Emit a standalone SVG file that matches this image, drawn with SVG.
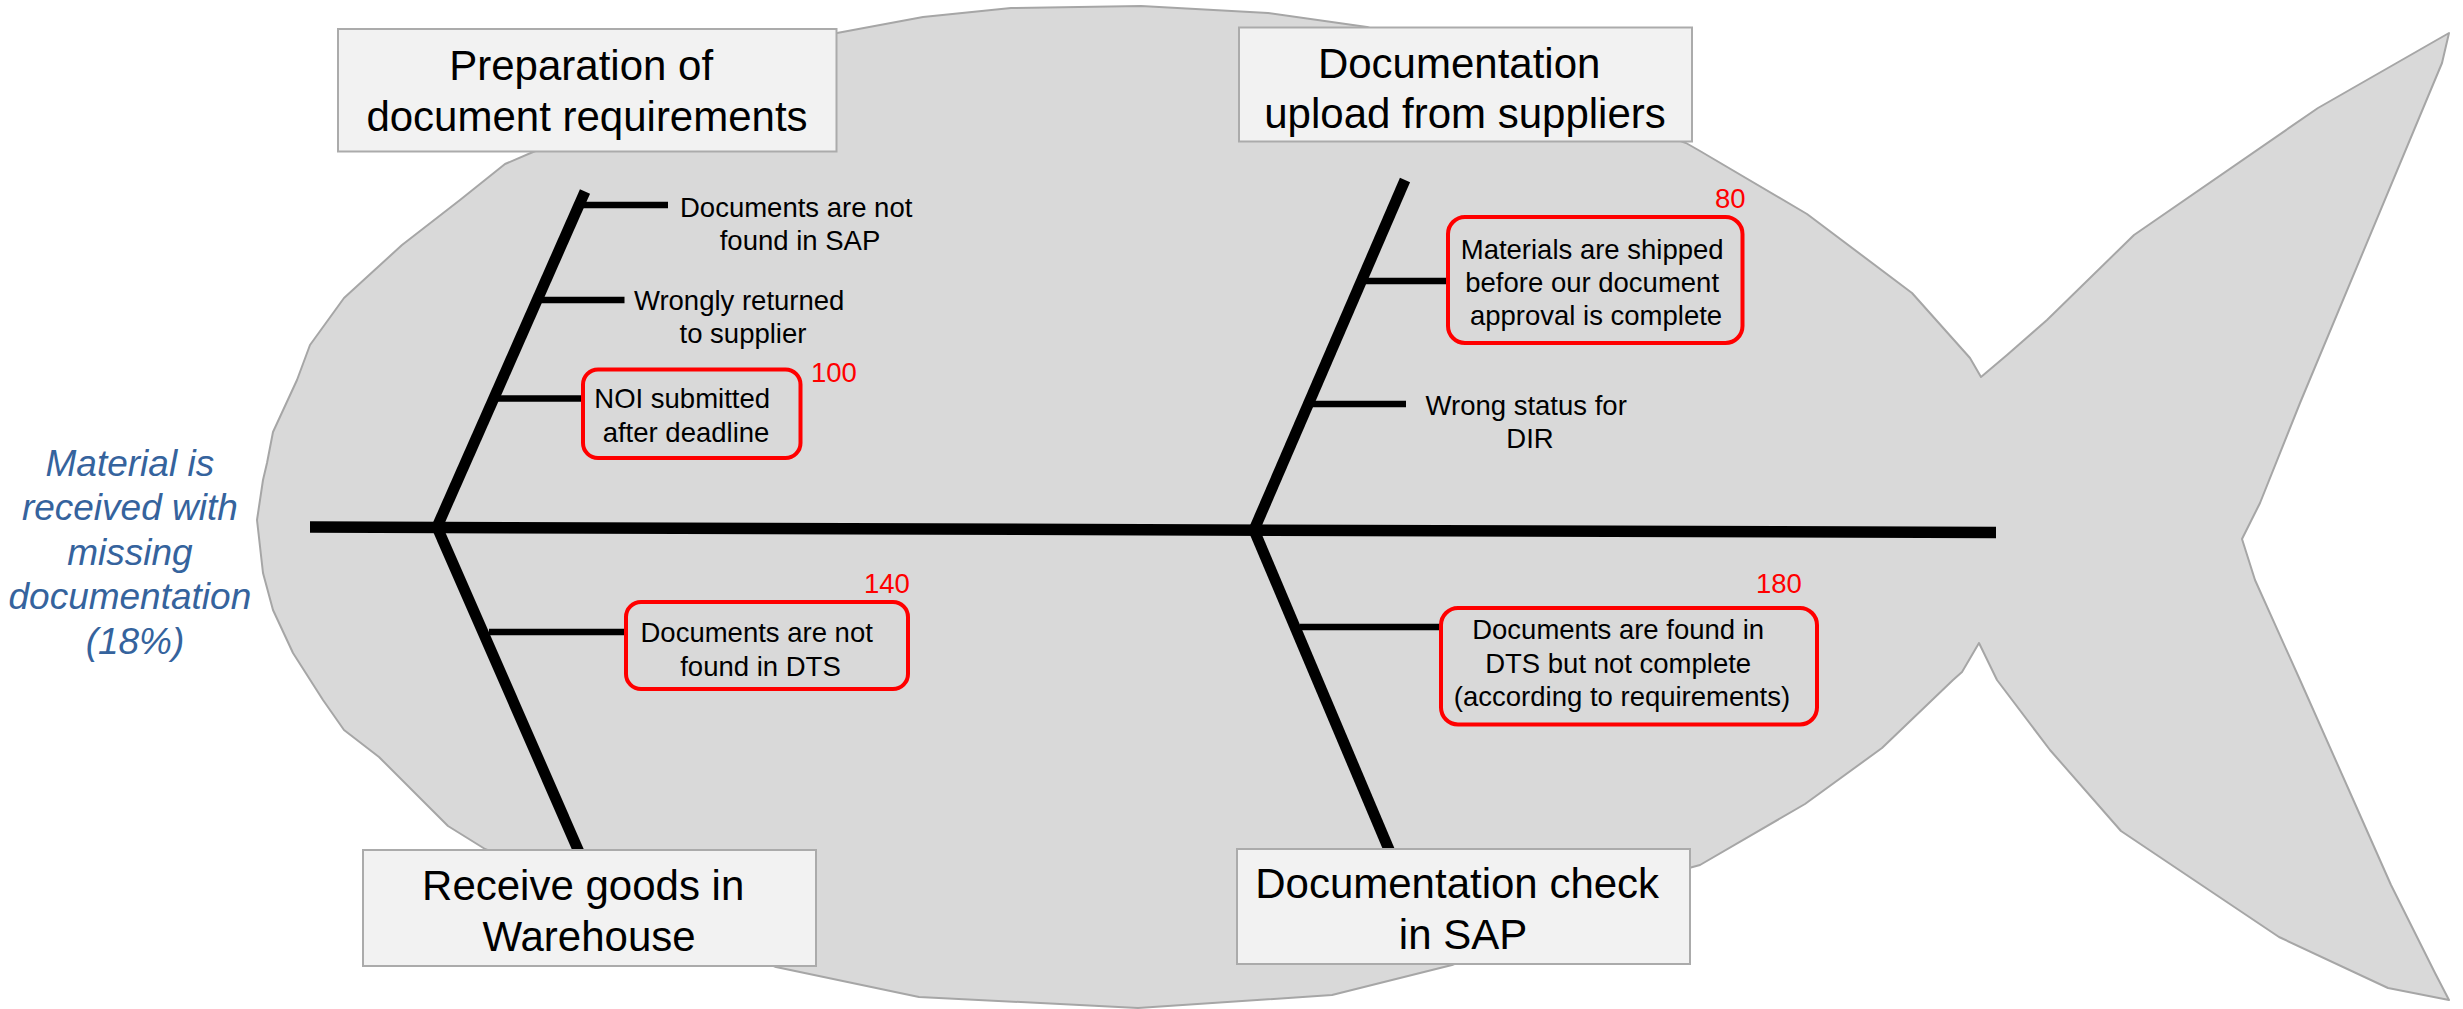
<svg xmlns="http://www.w3.org/2000/svg" width="2463" height="1009" viewBox="0 0 2463 1009">
  <defs>
    <style>
      .fish { fill: #D9D9D9; stroke: #A6A6A6; stroke-width: 2; stroke-linejoin: round; }
      .title-box { fill: #F2F2F2; stroke: #ABABAB; stroke-width: 2; }
      .title { font-family: "Liberation Sans", Arial, sans-serif; font-size: 42px; fill: #000; text-anchor: middle; }
      .cause { font-family: "Liberation Sans", Arial, sans-serif; font-size: 27.5px; fill: #000; text-anchor: middle; }
      .count { font-family: "Liberation Sans", Arial, sans-serif; font-size: 27.5px; fill: #FF0000; }
      .flag { fill: none; stroke: #FF0000; stroke-width: 4; }
      .spine { stroke: #000; stroke-width: 11.5; fill: none; }
      .bone { stroke: #000; stroke-width: 11; fill: none; }
      .rib { stroke: #000; stroke-width: 6.5; fill: none; }
      .effect { font-family: "Liberation Sans", Arial, sans-serif; font-size: 37px; font-style: italic; fill: #35639D; text-anchor: middle; }
    </style>
  </defs>

  <!-- fish silhouette -->
  <path id="fish-body" class="fish" d="M257,520 L263,480 L267,463 L273,432 L297,380 L310,345 L344,298 L402,245 L460,200 L505,164 L533,152 L837,33 L923,17 L1011,8 L1141,6 L1268,13 L1367,27 L1686,143 L1700,151 L1807,214 L1912,293 L1970,358 L1981,377 L2007,355 L2047,320 L2134,235 L2318,108 L2449,33 L2442,63 L2300,403 L2260,503 L2242,539 L2255,580 L2300,680 L2352,797 L2391,885 L2435,973 L2449,1000 L2388,988 L2279,937 L2121,831 L2050,750 L1997,680 L1979,643 L1962,672 L1953,680 L1882,748 L1805,804 L1700,865 L1689,868 L1452,965 L1332,995 L1138,1008 L919,997 L776,967 L485,849 L448,826 L379,757 L344,730 L323,700 L293,653 L273,610 L263,573 Z"/>

  <!-- spine, bones and ribs -->
  <g id="connectors">
    <line class="spine" x1="310" y1="527" x2="1996" y2="532.5"/>
    <line class="bone" x1="437" y1="527" x2="585" y2="191.5"/>
    <line class="bone" x1="437" y1="527" x2="579" y2="852"/>
    <line class="bone" x1="1254" y1="530" x2="1405" y2="180"/>
    <line class="bone" x1="1254" y1="530" x2="1390" y2="852"/>
    <line class="rib" x1="582" y1="205" x2="668" y2="205"/>
    <line class="rib" x1="541" y1="300" x2="624.5" y2="300"/>
    <line class="rib" x1="498" y1="398.5" x2="583" y2="398.5"/>
    <line class="rib" x1="489" y1="632" x2="626" y2="632"/>
    <line class="rib" x1="1366" y1="281" x2="1448" y2="281"/>
    <line class="rib" x1="1311" y1="404" x2="1406" y2="404"/>
    <line class="rib" x1="1300" y1="627" x2="1441" y2="627"/>
  </g>

  <!-- effect -->
  <g id="effect">
    <text class="effect">
      <tspan x="135" y="475.5">Material is</tspan>
      <tspan x="135" y="520">received with</tspan>
      <tspan x="135" y="564.5">missing</tspan>
      <tspan x="135" y="609">documentation</tspan>
      <tspan x="135" y="653.5">(18%)</tspan>
    </text>
  </g>

  <!-- category headers -->
  <g id="cat-preparation">
    <rect class="title-box" x="338" y="29" width="498.5" height="122.5"/>
    <text class="title">
      <tspan x="587" y="80">Preparation of</tspan>
      <tspan x="587" y="131">document requirements</tspan>
    </text>
  </g>
  <g id="cat-upload">
    <rect class="title-box" x="1239" y="27.5" width="453" height="114"/>
    <text class="title">
      <tspan x="1465" y="78">Documentation</tspan>
      <tspan x="1465" y="128">upload from suppliers</tspan>
    </text>
  </g>
  <g id="cat-receive">
    <rect class="title-box" x="363" y="850" width="453" height="116"/>
    <text class="title">
      <tspan x="589" y="900">Receive goods in</tspan>
      <tspan x="589" y="951">Warehouse</tspan>
    </text>
  </g>
  <g id="cat-check">
    <rect class="title-box" x="1237" y="849" width="453" height="115"/>
    <text class="title">
      <tspan x="1463" y="898">Documentation check</tspan>
      <tspan x="1463" y="949">in SAP</tspan>
    </text>
  </g>

  <!-- causes: preparation -->
  <g id="cause-not-in-sap">
    <text class="cause">
      <tspan x="800" y="217">Documents are not</tspan>
      <tspan x="800" y="250">found in SAP</tspan>
    </text>
  </g>
  <g id="cause-wrongly-returned">
    <text class="cause">
      <tspan x="743" y="310">Wrongly returned</tspan>
      <tspan x="743" y="343">to supplier</tspan>
    </text>
  </g>
  <g id="cause-noi-late">
    <rect class="flag" x="583" y="369.5" width="217.5" height="88.5" rx="15"/>
    <text class="cause">
      <tspan x="686" y="408">NOI submitted</tspan>
      <tspan x="686" y="441.5">after deadline</tspan>
    </text>
    <text class="count" x="811" y="381.5">100</text>
  </g>

  <!-- causes: receiving -->
  <g id="cause-not-in-dts">
    <rect class="flag" x="626" y="602" width="282" height="87" rx="15"/>
    <text class="cause">
      <tspan x="760.5" y="642">Documents are not</tspan>
      <tspan x="760.5" y="675.5">found in DTS</tspan>
    </text>
    <text class="count" x="864" y="593">140</text>
  </g>

  <!-- causes: supplier upload -->
  <g id="cause-shipped-early">
    <rect class="flag" x="1448" y="217" width="294.5" height="126" rx="17"/>
    <text class="cause">
      <tspan x="1596" y="258.5">Materials are shipped</tspan>
      <tspan x="1596" y="292">before our document</tspan>
      <tspan x="1596" y="325">approval is complete</tspan>
    </text>
    <text class="count" x="1715" y="207.5">80</text>
  </g>
  <g id="cause-dir-status">
    <text class="cause">
      <tspan x="1530" y="414.5">Wrong status for</tspan>
      <tspan x="1530" y="447.5">DIR</tspan>
    </text>
  </g>

  <!-- causes: SAP check -->
  <g id="cause-incomplete">
    <rect class="flag" x="1441" y="608" width="376" height="116.5" rx="17"/>
    <text class="cause">
      <tspan x="1622" y="639">Documents are found in</tspan>
      <tspan x="1622" y="672.5">DTS but not complete</tspan>
      <tspan x="1622" y="706">(according to requirements)</tspan>
    </text>
    <text class="count" x="1756" y="592.5">180</text>
  </g>
</svg>
